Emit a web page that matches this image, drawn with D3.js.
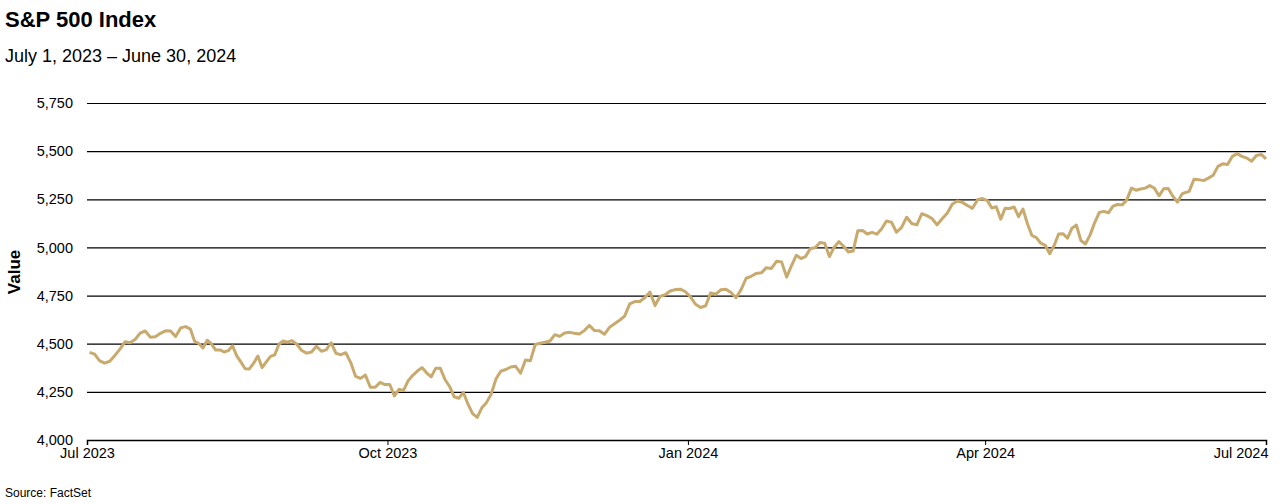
<!DOCTYPE html>
<html><head><meta charset="utf-8">
<script src="https://cdn.jsdelivr.net/npm/d3@7"></script>
<style>body{margin:0;background:#fff;font-family:Arial,"Liberation Sans",sans-serif}</style>
</head><body><svg id="c" width="1280" height="504"></svg>
<script>
const months = ["2023-07","2023-08","2023-09","2023-10","2023-11","2023-12","2024-01","2024-02","2024-03","2024-04","2024-05","2024-06"];
const monthValues = [
[4455,4446,4411,4399,4409,4439,4472,4510,4505,4522,4555,4566,4534,4536,4554,4567,4566,4537,4582,4589],
[4576,4513,4501,4478,4518,4499,4467,4468,4457,4464,4489,4437,4404,4370,4369,4399,4436,4376,4406,4434,4442,4497,4514,4508],
[4516,4497,4465,4451,4457,4487,4461,4468,4505,4450,4443,4453,4402,4330,4320,4337,4274,4274,4299,4288],
[4288,4229,4263,4258,4308,4336,4358,4376,4349,4328,4373,4372,4314,4278,4224,4217,4247,4186,4137,4117,4167,4194],
[4238,4318,4358,4366,4379,4383,4347,4415,4411,4496,4502,4508,4514,4547,4538,4556,4559,4554,4550,4568],
[4595,4569,4567,4549,4585,4604,4622,4643,4707,4719,4719,4740,4768,4698,4746,4754,4774,4781,4783,4770],
[4743,4705,4688,4697,4764,4757,4780,4783,4766,4739,4781,4840,4850,4865,4868,4895,4891,4928,4925,4846],
[4906,4959,4942,4954,4995,4998,5026,5022,4953,5001,5030,5006,4976,4981,5087,5088,5070,5078,5069,5096],
[5137,5131,5079,5104,5157,5124,5117,5175,5165,5150,5117,5149,5178,5224,5241,5234,5218,5203,5248,5254],
[5243,5205,5211,5147,5204,5202,5210,5160,5199,5123,5062,5051,5022,5011,4967,5010,5070,5071,5048,5100,5116,5036],
[5018,5064,5128,5181,5187,5180,5214,5223,5221,5247,5308,5297,5303,5308,5321,5307,5268,5305,5306,5266,5235,5278],
[5283,5291,5354,5352,5347,5360,5375,5421,5434,5431,5473,5487,5473,5464,5448,5477,5483,5460]
];
const yTicks = [4000,4250,4500,4750,5000,5250,5500,5750];
const xTickLabels = ["Jul 2023","Oct 2023","Jan 2024","Apr 2024","Jul 2024"];

const parse = d3.timeParse("%Y-%m");
const endDate = new Date(2024,5,26);
const data = [];
monthValues.forEach((vals, m) => {
  const s = parse(months[m]);
  let e = d3.timeMonth.offset(s, 1);
  if (e > endDate) e = endDate;
  const n = vals.length;
  vals.forEach((v, i) => {
    const t = m === months.length - 1 ? i / (n - 1) : (i + 0.5) / n;
    data.push({date: new Date(+s + (+e - +s) * t), value: v});
  });
});

const svg = d3.select("#c");
const x = d3.scaleTime().domain([new Date(2023,6,1), endDate]).range([87, 1266]);
const y = d3.scaleLinear().domain([4000,5750]).range([440, 103]);
const F = "Arial,'Liberation Sans',sans-serif";

svg.append("text").attr("x",5).attr("y",27).attr("font-size",22).attr("font-weight","bold").text("S&P 500 Index");
svg.append("text").attr("x",5).attr("y",62).attr("font-size",18).text("July 1, 2023 – June 30, 2024");
svg.append("text").attr("transform","translate(20,272) rotate(-90)").attr("text-anchor","middle").attr("font-size",17).attr("font-weight","bold").text("Value");
svg.append("text").attr("x",5).attr("y",497).attr("font-size",12).text("Source: FactSet");

const gy = svg.append("g").attr("transform","translate(87,0)")
  .call(d3.axisLeft(y).tickValues(yTicks).tickSize(-1179).tickFormat(d3.format(",")).tickPadding(14));
gy.select(".domain").remove();
gy.selectAll(".tick line").attr("stroke","#000").attr("stroke-width",1.2);
gy.selectAll(".tick text").attr("font-size",14.5).attr("fill","#000").attr("font-family",F);

const tickDates = [new Date(2023,6,1),new Date(2023,9,1),new Date(2024,0,1),new Date(2024,3,1),endDate];
const gx = svg.append("g").attr("transform","translate(0,440)")
  .call(d3.axisBottom(x).tickValues(tickDates).tickSize(5).tickFormat((d,i)=>xTickLabels[i]));
gx.select(".domain").attr("stroke","#000").attr("stroke-width",1.5);
gx.selectAll(".tick line").attr("stroke","#000");
gx.selectAll(".tick text").attr("font-size",14.5).attr("fill","#000").attr("font-family",F);
gx.selectAll(".tick text").filter((d,i)=>i===4).attr("text-anchor","end").attr("dx",2);

svg.append("path").datum(data).attr("fill","none").attr("stroke","#C8AA6E").attr("stroke-width",3)
  .attr("stroke-linejoin","round").attr("d", d3.line().x(d=>x(d.date)).y(d=>y(d.value)));
</script></body></html>
